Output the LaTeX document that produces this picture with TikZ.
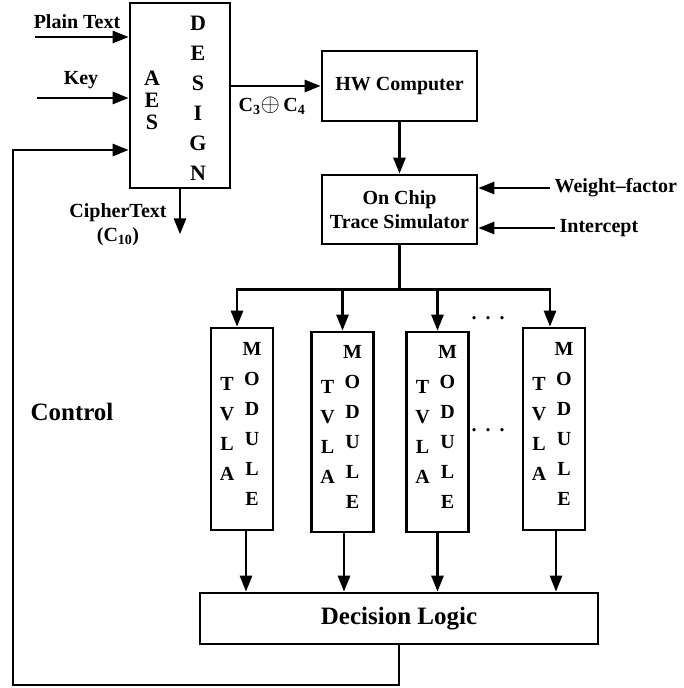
\documentclass[tikz,border=0pt]{standalone}
\usepackage{fontspec}
\setmainfont{Liberation Serif}
\usetikzlibrary{arrows.meta,positioning,calc}
\tikzset{
  blk/.style={draw,line width=2.7pt,inner sep=0pt},
  lbl/.style={font=\bfseries\fontsize{20}{24}\selectfont},
  vert/.style={font=\bfseries\fontsize{20}{30}\selectfont,align=center,inner sep=0pt},
  big/.style={font=\bfseries\fontsize{25}{30}\selectfont},
}
\begin{document}
\begin{tikzpicture}[x=1pt,y=-1pt,>={Triangle[length=16pt,width=12pt]},line width=2.7pt]
    \useasboundingbox (0,0) rectangle (684,688);
    % AES block and its inputs
    \node[blk,minimum width=100pt,minimum height=185pt] (aes) at (180,95.5) {};
    \node[vert,font=\bfseries\fontsize{22}{22}\selectfont] at (152,100) {A\\E\\S};
    \node[vert,font=\bfseries\fontsize{22}{30}\selectfont] at (198,98) {D\\E\\S\\I\\G\\N};
    \node[lbl] (plain) at (77,22) {Plain Text};
    \node[lbl] (key) at (81,80) {Key};
    \coordinate (pin) at (35,37);
    \coordinate (kin) at (37,98);
    \draw[->](pin)--(pin -| aes.west);
    \draw[->](kin)--(kin -| aes.west);
    \draw[->](aes.south)--++(0,45);
    \node[lbl,align=center] (cipher) at (118,225) {CipherText\\(C\textsubscript{10})};
    % power model and trace simulator
    \node[blk,lbl,minimum width=155pt,minimum height=70pt] (hw) at (399.5,86) {HW Computer};
    \node[blk,lbl,align=center,minimum width=155pt,minimum height=69pt] (trace) at (399.5,209.5) {On Chip\\Trace Simulator};
    \draw[->](aes.east |- hw.west)--(hw.west);
    \node[lbl] (xorlbl) at (272,106) {C\textsubscript{3}{\fontsize{25}{25}\selectfont$\oplus$}\,C\textsubscript{4}};
    \draw[->](hw)--(trace);
    \node[lbl,anchor=west] (wf) at (550,188) {Weight--factor};
    \node[lbl,anchor=west] (icpt) at (555,228) {Intercept};
    \draw[->](wf.west)--(wf.west -| trace.east);
    \draw[->](icpt.west)--(icpt.west -| trace.east);
    % TVLA modules between the bus and the decision logic
    \node[blk,big,minimum width=398pt,minimum height=51pt] (dec) at (399,618.5) {Decision Logic};
    \draw(trace.south)--++(0,44) coordinate (bus);
    \foreach \n/\x/\y/\h/\a/\b in {1/242/429/202/-5/4, 2/342.5/432/200/0/1.5, 3/437.5/432/200/0/0, 4/554/429/202/-4/2}{
        \node[blk,minimum width=62pt,minimum height=\h pt] (mod\n) at (\x,\y) {};
        \node[vert] at ($(mod\n)+(-15,0)$) {T\\V\\L\\A};
        \node[vert] at ($(mod\n)+(10,-5)$) {M\\O\\D\\U\\L\\E};
        \draw[->](bus)-|($(mod\n.north)+(\a,0)$);
        \draw[->]($(mod\n.south)+(\b,0)$)--($(mod\n.south |- dec.north)+(\b,0)$);
    }
    \node[lbl] (dots1) at (488,318) {.\hspace{9pt}.\hspace{9pt}.};
    \node[lbl] (dots2) at (488,430) {.\hspace{9pt}.\hspace{9pt}.};
    % feedback path
    \node[big] (ctl) at (72,412) {Control};
    \coordinate (corner) at (13,685);
    \draw[->](dec.south)|-(corner)|-($(aes.west)+(0,54.5)$);
\end{tikzpicture}
\end{document}
